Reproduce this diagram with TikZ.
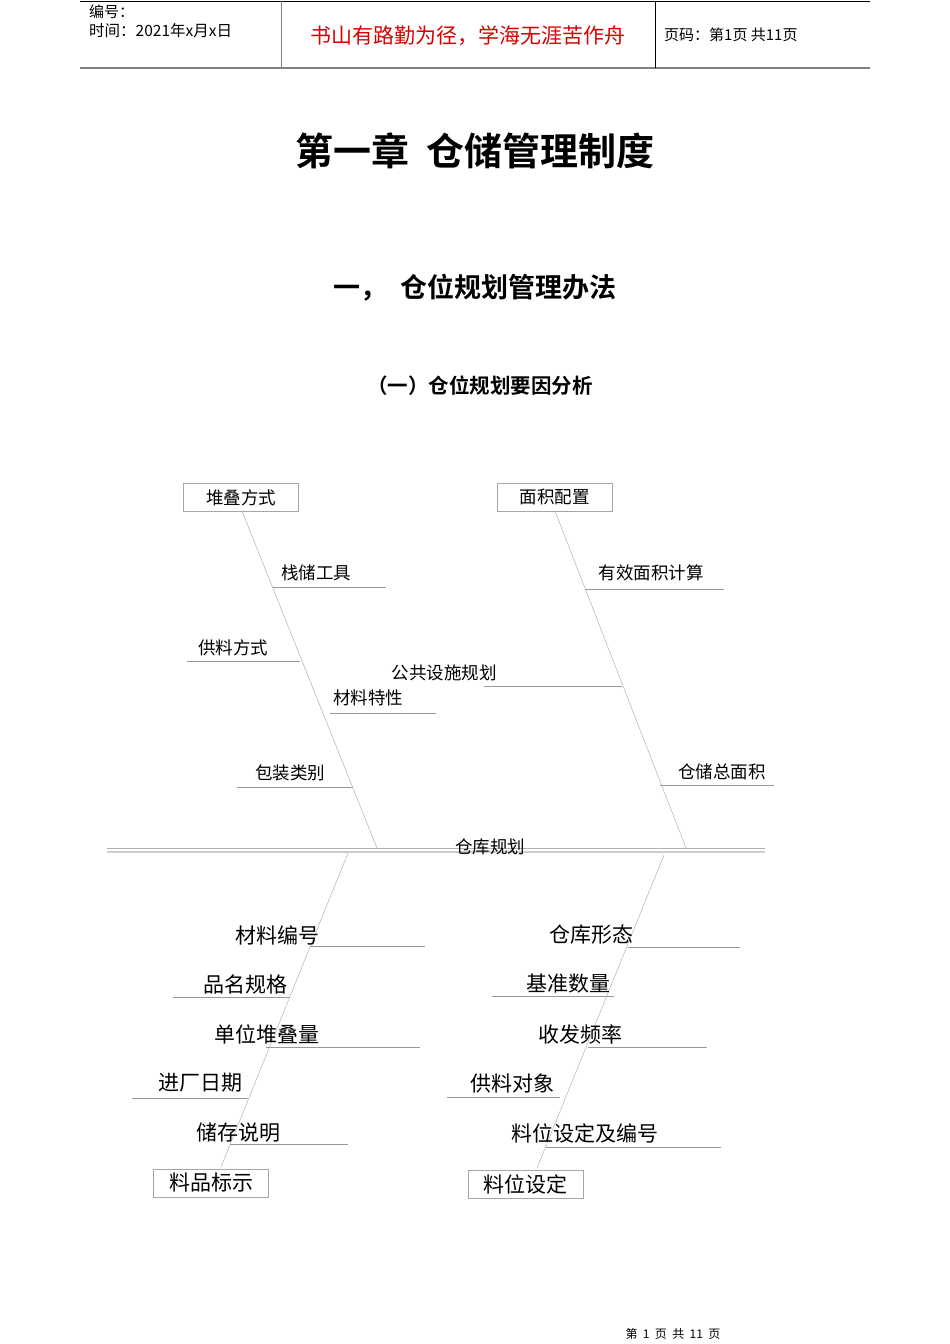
\documentclass[tikz,border=0pt]{standalone}
\usepackage{fontspec}
\setmainfont{Noto Sans CJK SC}
\newfontfamily\cjk{Noto Sans CJK SC}
\newfontfamily\cjkb{Noto Sans CJK SC Bold}
\begin{document}
\begin{tikzpicture}[x=1pt,y=-1pt,
  lab/.style={inner sep=0pt,font=\fontsize{17.5}{17.5}\selectfont},
  labl/.style={inner sep=0pt,font=\fontsize{21}{21}\selectfont},
  box/.style={draw=gray!70,line width=0.6pt,minimum width=115pt,minimum height=28pt,inner sep=0pt},
  rib/.style={draw=gray!60,line width=0.5pt},
  under/.style={draw=gray!80,line width=0.6pt}]
\useasboundingbox (0,0) rectangle (950,1344);
% header
\draw[line width=0.6pt] (80,1) -- (870,1);
\draw[gray,line width=1.2pt] (80,68) -- (870,68);
\draw[gray,line width=0.8pt] (281,1) -- (281,68);
\draw[line width=0.6pt] (655,1) -- (655,68);
\node[anchor=west,inner sep=0pt,font=\fontsize{15}{15}\selectfont] (h1) at (89,12) {编号：};
\node[anchor=west,inner sep=0pt,font=\fontsize{15.5}{15.5}\selectfont] (h2) at (89,31) {时间：2021年x月x日};
\node[inner sep=0pt,text=red!85!black,font=\fontsize{21}{21}\selectfont] (h3) at (468,36) {书山有路勤为径，学海无涯苦作舟};
\node[anchor=west,inner sep=0pt,font=\fontsize{15}{15}\selectfont] (h4) at (664,35) {页码：第1页\ 共11页};
% titles
\node[inner sep=0pt,font=\cjkb\fontsize{38}{38}\selectfont] (t1) at (475,151) {第一章\ \ 仓储管理制度};
\node[inner sep=0pt,font=\cjkb\fontsize{27}{27}\selectfont] (t2) at (475,288) {一，\ \ 仓位规划管理办法};
\node[inner sep=0pt,font=\cjkb\fontsize{20.5}{20.5}\selectfont] (t3) at (480,386) {（一）仓位规划要因分析};
% main spine
\draw[gray!60,line width=0.6pt] (107,848) -- (765,848);
\draw[gray!40,line width=1.2pt] (107,852) -- (765,852);
\node[lab] (m) at (490,847) {仓库规划};
% boxes
\node[box,font=\fontsize{17.5}{17.5}\selectfont] (b1) at (241,497.5) {堆叠方式};
\node[box,font=\fontsize{17.5}{17.5}\selectfont] (b2) at (554.5,497) {面积配置};
\node[box,font=\fontsize{21}{21}\selectfont] (b3) at (211,1183) {料品标示};
\node[box,font=\fontsize{21}{21}\selectfont] (b4) at (525.5,1184) {料位设定};
\coordinate (s1) at (377,848);
\coordinate (s2) at (686,848);
\coordinate (s3) at (348,853);
\coordinate (s4) at (664,855);
\draw[rib] (242,511) -- (s1);
\draw[rib] (555,511) -- (s2);
\draw[rib] (s3) -- (221,1167);
\draw[rib] (s4) -- (537,1168);
% upper left
\node[lab] (a1) at (316,573) {栈储工具}; \draw[under] (273,587) -- (386,587);
\node[lab] (a2) at (233,648) {供料方式}; \draw[under] (187,661) -- (300,661);
\node[lab] (a3) at (368,698) {材料特性}; \draw[under] (330,713) -- (436,713);
\node[lab] (a4) at (290,773) {包装类别}; \draw[under] (237,787) -- (353,787);
% upper right
\node[lab] (c1) at (651,573) {有效面积计算}; \draw[under] (585,589) -- (724,589);
\node[lab] (c2) at (444,673) {公共设施规划}; \draw[under] (484,686) -- (622,686);
\node[lab] (c3) at (722,772) {仓储总面积}; \draw[under] (660,785) -- (774,785);
% lower left
\node[labl] (d1) at (277,935) {材料编号}; \draw[under] (310,946) -- (425,946);
\node[labl] (d2) at (245,984) {品名规格}; \draw[under] (173,997) -- (290,997);
\node[labl] (d3) at (267,1034) {单位堆叠量}; \draw[under] (266,1047) -- (420,1047);
\node[labl] (d4) at (200,1083) {进厂日期}; \draw[under] (132,1098) -- (248,1098);
\node[labl] (d5) at (238,1133) {储存说明}; \draw[under] (230,1144) -- (348,1144);
% lower right
\node[labl] (e1) at (591,935) {仓库形态}; \draw[under] (628,947) -- (740,947);
\node[labl] (e2) at (568,984) {基准数量}; \draw[under] (492,996) -- (614,996);
\node[labl] (e3) at (580,1034) {收发频率}; \draw[under] (588,1047) -- (707,1047);
\node[labl] (e4) at (512,1083) {供料对象}; \draw[under] (447,1097) -- (560,1097);
\node[labl] (e5) at (585,1133) {料位设定及编号}; \draw[under] (546,1147) -- (721,1147);
% footer
\node[inner sep=0pt,font=\fontsize{12}{12}\selectfont] (f) at (673,1334) {第\ \ 1\ \ 页\ \ 共\ \ 11\ \ 页};
\end{tikzpicture}
\end{document}
